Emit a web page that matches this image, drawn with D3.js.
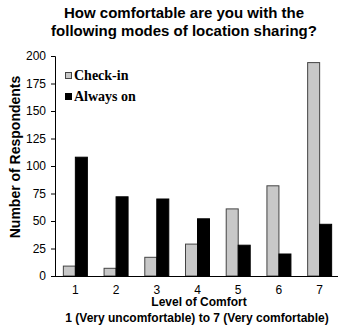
<!DOCTYPE html>
<html><head><meta charset="utf-8">
<script src="https://cdn.jsdelivr.net/npm/d3@7"></script>
<style>body{margin:0;background:#fff}svg{display:block}</style>
</head><body><svg id="c" width="339" height="326"></svg>
<script>
const categories = ["1","2","3","4","5","6","7"];
const seriesNames = ["Check-in","Always on"];
const checkIn = [9, 7, 17, 29, 61, 82, 194];
const alwaysOn = [108, 72, 70, 52, 28, 20, 47];
const yTicks = [0,25,50,75,100,125,150,175,200];
const colors = ["#c8c8c8","#000000"];

const svg = d3.select("#c");
const x = d3.scaleBand().domain(categories).range([55, 340]);
const y = d3.scaleLinear().domain([0,200]).range([276, 56]);
const barW = 12;
const series = [checkIn, alwaysOn];
const sans = "'Liberation Sans', Arial, sans-serif";

// title
svg.append("text").attr("x",184).attr("y",18).attr("text-anchor","middle")
  .attr("font-family",sans).attr("font-weight","bold").attr("font-size","15px")
  .text("How comfortable are you with the");
svg.append("text").attr("x",184).attr("y",36).attr("text-anchor","middle")
  .attr("font-family",sans).attr("font-weight","bold").attr("font-size","15px")
  .text("following modes of location sharing?");

// bars
series.forEach((vals, si) => {
  svg.append("g").selectAll("rect").data(vals).join("rect")
    .attr("x", (d,i) => x(categories[i]) + x.bandwidth()/2 - barW + si*barW)
    .attr("y", d => y(d))
    .attr("width", barW)
    .attr("height", d => y(0) - y(d))
    .attr("fill", colors[si])
    .attr("stroke", si === 0 ? "#444" : "#000")
    .attr("stroke-width", 1);
});

// y axis
const ya = svg.append("g").attr("transform","translate(55,0)")
  .call(d3.axisLeft(y).tickValues(yTicks).tickSize(4).tickPadding(5).tickSizeOuter(4));
ya.selectAll("text").attr("font-family",sans).attr("font-size","12px").attr("fill","#000");
ya.select(".domain").attr("stroke","#000");
ya.selectAll(".tick line").attr("stroke","#000");

// x axis
const xa = svg.append("g").attr("transform","translate(0,276)")
  .call(d3.axisBottom(x).tickSize(0).tickPadding(9));
xa.select(".domain").attr("d", `M${x.range()[0]},0.5H${x.range()[1]-2}`).attr("stroke","#000");
xa.selectAll("text").attr("font-family",sans).attr("font-size","12px").attr("fill","#000");

// axis titles
svg.append("text").attr("transform","translate(20,157) rotate(-90)").attr("text-anchor","middle")
  .attr("font-family",sans).attr("font-weight","bold").attr("font-size","14px")
  .text("Number of Respondents");
svg.append("text").attr("x",199).attr("y",306).attr("text-anchor","middle")
  .attr("font-family",sans).attr("font-weight","bold").attr("font-size","12px")
  .text("Level of Comfort");
svg.append("text").attr("x",197).attr("y",322).attr("text-anchor","middle")
  .attr("font-family",sans).attr("font-weight","bold").attr("font-size","12px")
  .text("1 (Very uncomfortable) to 7 (Very comfortable)");

// legend
const lg = svg.append("g");
seriesNames.forEach((n, i) => {
  const yy = 72 + i*21;
  lg.append("rect").attr("x",65.5).attr("y",yy+0.5).attr("width",6).attr("height",6)
    .attr("fill",colors[i]).attr("stroke", i===0 ? "#444" : "#000");
  lg.append("text").attr("x",74).attr("y",yy+8)
    .attr("font-family","'Liberation Serif', 'Times New Roman', serif").attr("font-weight","bold").attr("font-size","14px")
    .text(n);
});
</script></body></html>
